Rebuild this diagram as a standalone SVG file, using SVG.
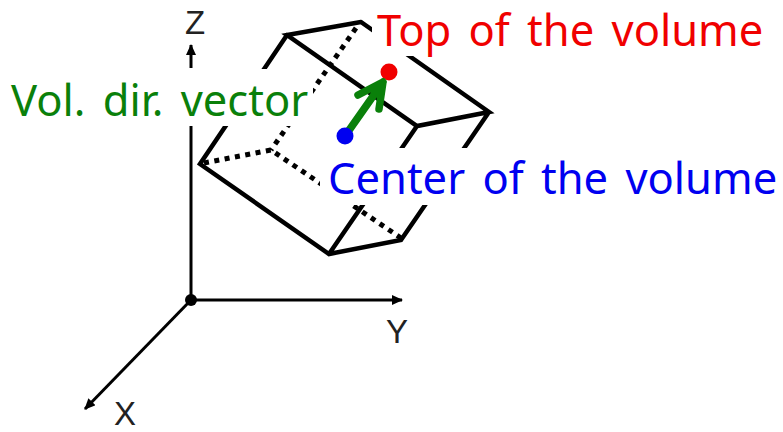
<svg xmlns="http://www.w3.org/2000/svg" width="783" height="432" viewBox="0 0 783 432">
<style>
text{font-family:"Noto Sans","Open Sans","Liberation Sans",sans-serif}
.lbl{font-size:43.5px;word-spacing:6px}
.ax{font-family:"Liberation Sans",Arial,sans-serif;font-size:33px;fill:#222}
.e{fill:none;stroke:#000;stroke-width:4.5;stroke-linecap:round}
.d{fill:none;stroke:#000;stroke-width:5;stroke-dasharray:5 5.5}
.a{fill:none;stroke:#000;stroke-width:3}
.m{fill:#fff}
</style>
<defs>
<marker id="ah" markerUnits="userSpaceOnUse" markerWidth="12" markerHeight="10" refX="10" refY="5" orient="auto"><path d="M0,0L11,5L0,10Z" fill="#000"/></marker>
</defs>
<rect width="783" height="432" fill="#fff"/>
<g id="connectors">
<g id="volume-edges">
<path class="e" d="M361,22L287,35L417,126L489,112L361,22M287,35L200,164L329,254L401,240L489,112M417,126L329,254"/>
<path class="d" d="M356,28L271,150M204,163L271,150L401,238"/>
</g>
<g id="axes">
<path class="a" d="M191,301V69"/>
<path class="a" d="M191,68V45" marker-end="url(#ah)"/>
<path class="a" d="M191,300H402" marker-end="url(#ah)"/>
<path class="a" d="M191,300L85,409" marker-end="url(#ah)"/>
</g>
</g>
<g id="label-masks">
<rect class="m" x="320" y="148" width="463" height="57"/>
<rect class="m" x="5" y="69" width="308" height="57"/>
<rect class="m" x="372" y="0" width="400" height="56"/>
</g>
<g id="origin"><circle cx="191" cy="300" r="6" fill="#000"/></g>
<g id="top-point"><circle cx="389" cy="72" r="8.5" fill="#f00000"/></g>
<g id="vector"><path d="M345,136L383,82M358,95L383,82L379,109" fill="none" stroke="#0a800a" stroke-width="7.5" stroke-linecap="round" stroke-linejoin="round"/></g>
<g id="center-point"><circle cx="345" cy="136" r="8.5" fill="#0000f0"/></g>
<g id="labels">
<text class="ax" x="185" y="34">Z</text>
<text class="ax" x="386" y="343">Y</text>
<text class="ax" x="114" y="425">X</text>
<text class="lbl" x="377" y="46" fill="#f00000">Top of the volume</text>
<text class="lbl" x="11" y="116" fill="#0a800a">Vol. dir. vector</text>
<text class="lbl" x="328" y="194" fill="#0000f0">Center of the volume</text>
</g>
</svg>
